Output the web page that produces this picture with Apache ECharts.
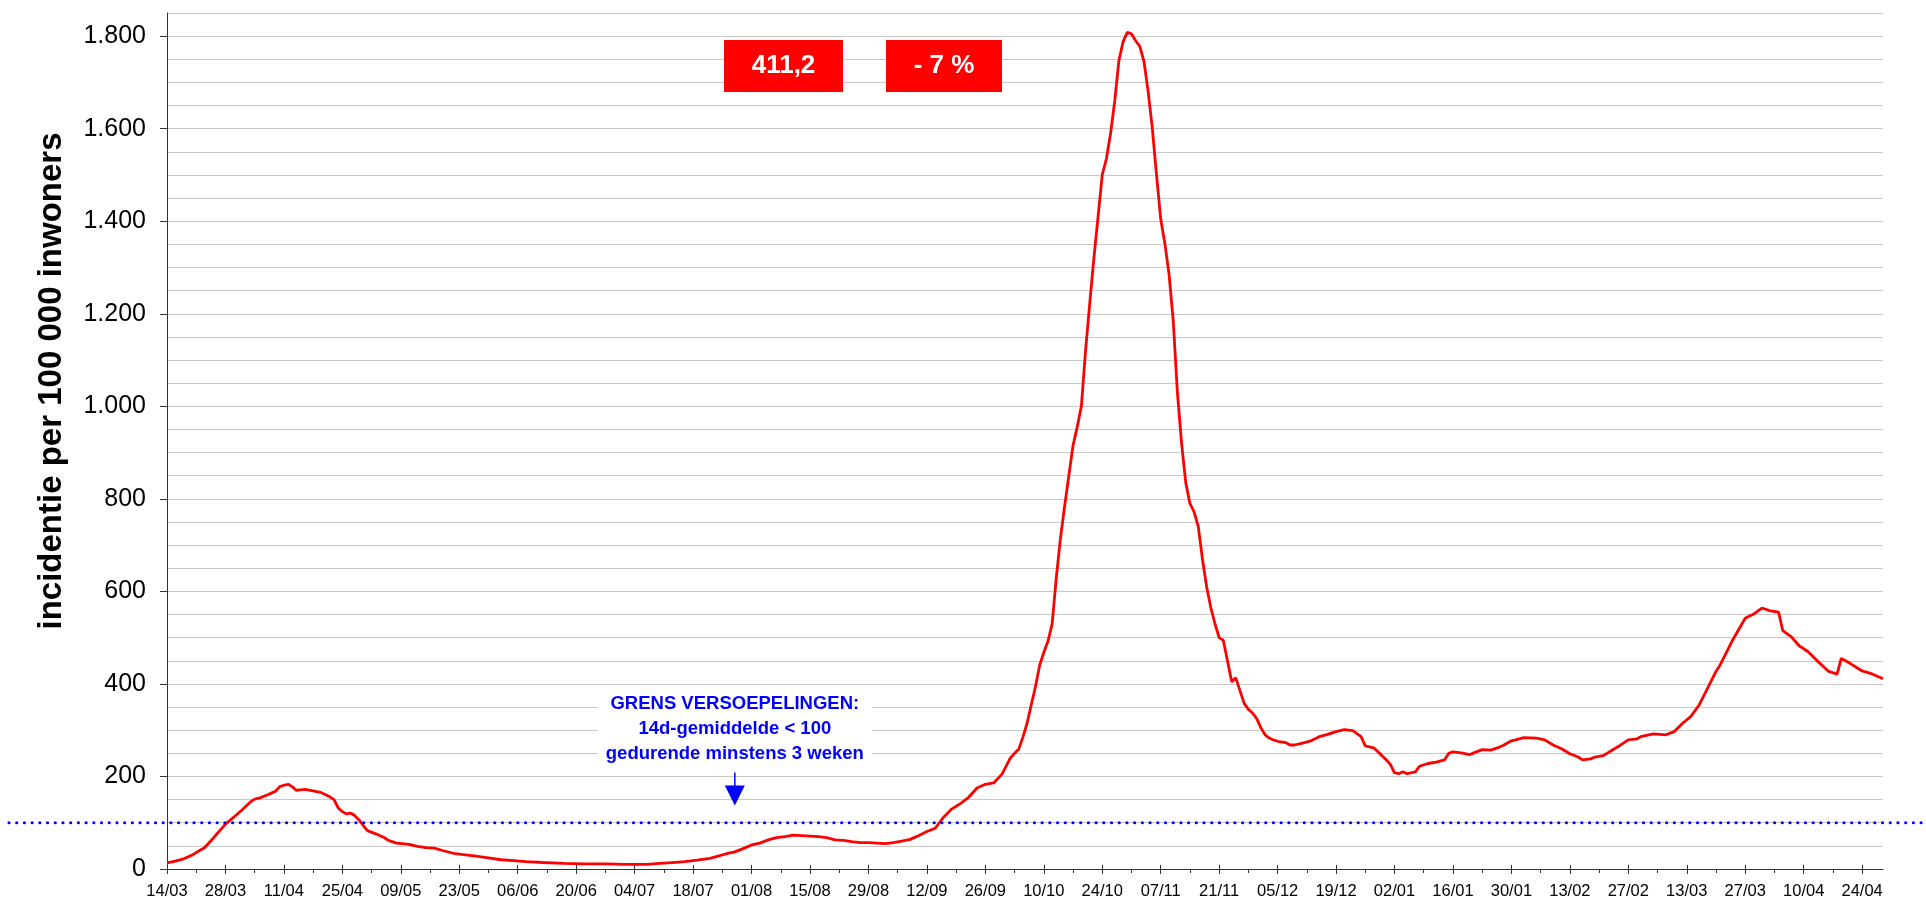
<!DOCTYPE html>
<html><head><meta charset="utf-8">
<script src="https://cdn.jsdelivr.net/npm/echarts@6/dist/echarts.min.js"></script>
<style>html,body{margin:0;padding:0;background:#fff}#c{width:1926px;height:906px}</style>
</head><body><div id="c"></div>
<script>
// days since 14/03/2020
const startDate = '2020-03-14';
const dayOffsets = [0,2,4,6,8,9,11,14,16,18,20,21,22,24,25,26,27,28,29,30,31,33,35,37,39,40,41,42,43,44,45,46,47,48,50,52,53,55,58,60,62,64,66,69,72,74,77,80,83,86,90,95,100,105,110,115,118,121,124,127,130,132,134,136,138,140,142,144,146,148,150,152,154,156,158,160,162,164,166,168,170,172,174,176,178,180,182,184,185,186,188,190,192,194,196,198,200,202,203,204,205,206,207,208,209,210,211,212,213,214,215,216,217,218,219,220,221,222,223,224,225,226,227,228,229,230,231,232,233,234,235,236,237,238,239,240,241,242,243,244,245,246,247,248,249,250,251,252,253,254,255,256,257,258,259,260,261,262,263,264,265,266,268,269,270,272,274,276,278,280,282,284,286,287,289,291,292,293,294,295,296,297,298,299,300,302,304,306,307,308,310,312,313,315,317,319,320,322,323,325,328,330,332,334,336,338,339,341,342,344,346,348,350,352,353,356,359,361,363,365,367,369,371,372,375,378,380,382,384,386,387,389,391,393,395,398,400,401,403,406,408,411];
const values = [13,17,22,30,41,46,66,97,112,128,145,151,153,160,164,168,178,181,183,178,170,172,169,165,156,150,132,124,119,121,115,106,94,83,76,68,62,56,53,49,46,45,40,33,30,28,24,20,18,16,14,12,11,11,10,10,12,14,16,19,23,28,33,37,44,52,56,63,68,70,73,72,71,70,68,63,62,59,57,57,56,55,57,60,64,72,81,88,100,112,130,141,155,175,183,186,205,240,250,259,285,315,355,394,440,468,492,530,630,715,785,850,915,955,1000,1120,1222,1320,1410,1500,1535,1590,1660,1748,1788,1808,1805,1790,1778,1745,1680,1600,1500,1405,1352,1285,1185,1030,920,835,790,772,740,670,610,565,530,500,494,450,405,413,385,358,345,337,325,305,290,283,279,276,273,268,268,272,277,286,291,297,301,299,286,266,262,245,236,226,208,206,210,206,208,210,222,228,231,236,250,253,251,247,251,258,257,263,267,277,279,284,283,279,268,260,249,242,236,238,242,245,256,267,279,281,286,292,290,297,315,330,355,391,427,441,495,542,551,564,558,555,515,502,482,470,452,427,421,455,445,428,423,411.2];
const xTickLabels = ['14/03','28/03','11/04','25/04','09/05','23/05','06/06','20/06','04/07','18/07','01/08','15/08','29/08','12/09','26/09','10/10','24/10','07/11','21/11','05/12','19/12','02/01','16/01','30/01','13/02','27/02','13/03','27/03','10/04','24/04'];
const xLastDay = 411;
const yTickValues = [0,200,400,600,800,1000,1200,1400,1600,1800];
const yMax = 1850;
const threshold = 100;
const boxTexts = ['411,2', '- 7 %'];
const noteLines = ['GRENS VERSOEPELINGEN:', '14d-gemiddelde < 100', 'gedurende minstens 3 weken'];
const noteDay = 136, noteTipValue = 137;
const yTitle = 'incidentie per 100 000 inwoners';

const FONT = '"Liberation Sans", Arial, Helvetica, sans-serif';
const majorTicks = xTickLabels.map((_, i) => i * 14);
const minorTicks = majorTicks.map(v => v + 7).filter(v => v < xLastDay);
const fmtY = v => v >= 1000 ? Math.floor(v / 1000) + '.' + String(v % 1000).padStart(3, '0') : String(v);

const chart = echarts.init(document.getElementById('c'), null, {renderer: 'canvas'});
const axisCol = '#333333';
const baseX = {type: 'value', min: 0, max: xLastDay, interval: 14, position: 'bottom', splitLine: {show: false}};
const baseY = {type: 'value', min: 0, max: yMax, interval: 50, position: 'left'};
chart.setOption({
  animation: false,
  backgroundColor: '#ffffff',
  grid: {left: 167, right: 43, top: 13, bottom: 37, containLabel: false},
  xAxis: [
    Object.assign({}, baseX, {
      axisLine: {show: true, lineStyle: {color: axisCol, width: 1}},
      axisTick: {show: true, customValues: majorTicks, length: 5, lineStyle: {color: axisCol}},
      axisLabel: {show: true, customValues: majorTicks, formatter: v => xTickLabels[Math.round(v / 14)] || '', fontSize: 16.5, color: '#000', fontFamily: FONT, margin: 14}
    }),
    Object.assign({}, baseX, {
      axisLine: {show: false},
      axisTick: {show: true, inside: true, customValues: majorTicks, length: 4, lineStyle: {color: axisCol}},
      axisLabel: {show: false}
    }),
    Object.assign({}, baseX, {
      axisLine: {show: false},
      axisTick: {show: true, customValues: minorTicks, length: 4, lineStyle: {color: axisCol}},
      axisLabel: {show: false}
    })
  ],
  yAxis: [
    Object.assign({}, baseY, {
      axisLine: {show: true, lineStyle: {color: axisCol, width: 1}},
      axisTick: {show: false},
      axisLabel: {show: false},
      splitLine: {show: true, lineStyle: {color: '#c8c8c8', width: 1}}
    }),
    Object.assign({}, baseY, {
      axisLine: {show: false},
      axisTick: {show: true, customValues: yTickValues, length: 7, lineStyle: {color: axisCol}},
      axisLabel: {show: true, customValues: yTickValues, formatter: fmtY, fontSize: 25, color: '#000', fontFamily: FONT, margin: 21},
      splitLine: {show: false}
    })
  ],
  series: [{
    type: 'line', xAxisIndex: 0, yAxisIndex: 0,
    data: dayOffsets.map((d, i) => [d, values[i]]),
    showSymbol: false, symbol: 'none',
    lineStyle: {color: '#ff0000', width: 2.8},
    z: 5
  }]
});

const yThr = chart.convertToPixel({yAxisIndex: 0}, threshold);
const ax = chart.convertToPixel({xAxisIndex: 0}, noteDay);
const tipY = chart.convertToPixel({yAxisIndex: 0}, noteTipValue);
const W = chart.getWidth();
const g = [];
g.push({type: 'rect', shape: {x: ax - 137, y: tipY - 118, width: 274, height: 82}, style: {fill: '#fff'}, z: 10});
noteLines.forEach((t, i) => g.push({type: 'text', x: ax, y: tipY - 102 + i * 25, style: {text: t, fill: '#0000ff', font: 'bold 18.5px ' + FONT, align: 'center', verticalAlign: 'middle'}, z: 11}));
g.push({type: 'line', shape: {x1: ax, y1: tipY - 33, x2: ax, y2: tipY - 18}, style: {stroke: '#0000ff', lineWidth: 1.5}, z: 11});
g.push({type: 'polygon', shape: {points: [[ax - 10, tipY - 20], [ax + 10, tipY - 20], [ax, tipY]]}, style: {fill: '#0000ff'}, z: 11});
g.push({type: 'line', shape: {x1: 9, y1: yThr, x2: W, y2: yThr}, style: {stroke: '#0000ff', lineWidth: 3.2, lineDash: [0.01, 7.7], lineCap: 'round'}, z: 12});
const boxes = [[724, 119], [886, 116]];
boxes.forEach((b, i) => {
  g.push({type: 'rect', shape: {x: b[0], y: 40, width: b[1], height: 52}, style: {fill: '#ff0000'}, z: 10});
  g.push({type: 'text', x: b[0] + b[1] / 2, y: 66, style: {text: boxTexts[i], fill: '#fff', font: 'bold 26px ' + FONT, align: 'center', verticalAlign: 'middle'}, z: 11});
});
g.push({type: 'text', x: 52, y: 381, rotation: Math.PI / 2, style: {text: yTitle, fill: '#000', font: 'bold 33px ' + FONT, align: 'center', verticalAlign: 'middle'}, z: 11});
chart.setOption({graphic: g});
</script>
</body></html>
